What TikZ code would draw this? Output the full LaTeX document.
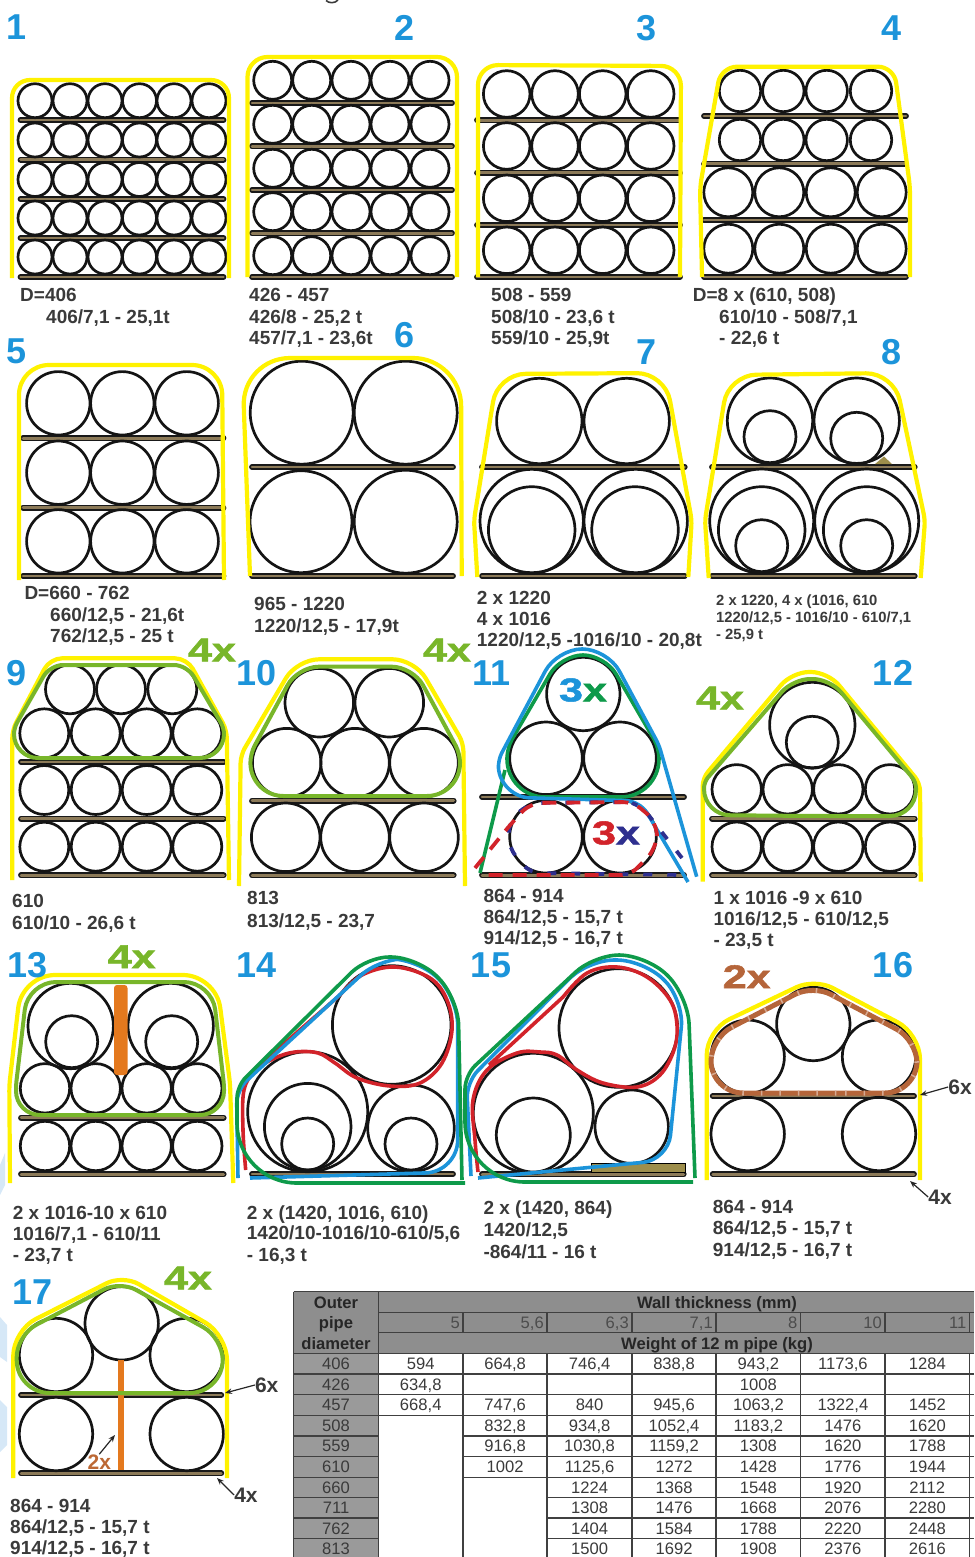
\documentclass[tikz,border=0pt]{standalone}
\usepackage{fontspec}
\setmainfont{Liberation Sans}
\newfontfamily\heavy[BoldFeatures={FakeBold=1.6}]{Liberation Sans}
\usetikzlibrary{arrows.meta}
\definecolor{yel}{HTML}{FFF200}
\definecolor{grnl}{HTML}{78B62A}
\definecolor{grnd}{HTML}{0E9A4A}
\definecolor{blu}{HTML}{1C94DA}
\definecolor{redd}{HTML}{D2232A}
\definecolor{navy}{HTML}{2E2F8F}
\definecolor{brn}{HTML}{B5653A}
\definecolor{org}{HTML}{E4791E}
\definecolor{txt}{HTML}{3A3A3A}
\definecolor{brdc}{HTML}{8C7A58}
\definecolor{pale}{HTML}{D6E8F7}
\definecolor{hgrey}{HTML}{8E8E8E}
\definecolor{lgrey}{HTML}{9A9A9A}
\definecolor{tline}{HTML}{404040}
\tikzset{
  rc/.style={rounded corners=#1pt},
  pipe/.style={draw=black!92,line width=2.7pt},
  yline/.style={draw=yel,line width=4.2pt},
  gline/.style={draw=grnl,line width=4pt,line join=round},
  dline/.style={draw=grnd,line width=3.6pt,line join=round},
  bline/.style={draw=blu,line width=3.6pt,line join=round},
  rline/.style={draw=redd,line width=3.6pt,line join=round},
  lbl/.style={anchor=base west,inner sep=0pt,text=txt,font=\bfseries\fontsize{19}{20}\selectfont},
  lbls/.style={anchor=base west,inner sep=0pt,text=txt,font=\bfseries\fontsize{14.8}{16}\selectfont},
  num/.style={inner sep=0pt,text=blu,font=\bfseries\fontsize{36}{36}\selectfont},
  big/.style={inner sep=0pt,text=grnl,font=\heavy\bfseries\fontsize{33}{33}\selectfont},
  dk/.style={inner sep=0pt,text=txt,font=\bfseries\fontsize{21}{22}\selectfont},
  tcell/.style={anchor=base,inner sep=0pt,text=txt,font=\fontsize{16.6}{18}\selectfont},
  thead/.style={anchor=base,inner sep=0pt,text=black!85,font=\bfseries\fontsize{16.6}{18}\selectfont},
  tnum/.style={anchor=base east,inner sep=0pt,text=black!70,font=\fontsize{16.6}{18}\selectfont},
  gridl/.style={draw=tline,line width=1.2pt},
  arr/.style={draw=black!85,line width=1.2pt,-{Stealth[length=7pt,width=5.5pt]}},
}
\newcommand\cir[3]{\draw[pipe] (#1,#2) circle[radius=#3pt];}
\newcommand\brd[3]{\draw[black!90,line width=5.8pt,line cap=round] (#1+2,#3)--(#2-2,#3);\draw[brdc,line width=2.6pt,line cap=round] (#1+2,#3)--(#2-2,#3);}
\newcommand\lab[4]{\node[lbl] (#1) at (#2,#3+6.6) {#4};}
\newcommand\labs[4]{\node[lbls] (#1) at (#2,#3+5.2) {#4};}
\newcommand\stretchx[1]{\scalebox{1.3}[1]{#1}}
\begin{document}
\begin{tikzpicture}[x=1pt,y=-1pt]
\useasboundingbox (0,0) rectangle (974,1557);
\clip (0,0) rectangle (974,1557);
% pale marks at the left edge
\fill[pale] (0,1165)--(5,1153)--(5,1185)--(0,1195)--cycle;
\fill[pale] (0,1317)--(7,1325)--(7,1362)--(0,1357)--cycle;
\fill[pale] (0,1400)--(7,1407)--(7,1445)--(0,1452)--cycle;
\draw[txt,line width=1.6pt] (326,0.5) .. controls (329,3.5) and (335,3.5) .. (338,0);
% ---------- 1
\foreach \y in {120,159.7,199,238,277}{\brd{18.5}{225.5}{\y}}
\foreach \x in {35,70,105,139.5,174,209}\foreach \y in {100.7,140,179.5,218,257}{\cir{\x}{\y}{17}}
\draw[yline,rc=18] (12,278)--(12,80)--(229,80)--(229,278);
% ---------- 2
\foreach \y in {103,146.3,190,233.3,277}{\brd{250}{454}{\y}}
\foreach \x in {272.7,311.7,351,390,430}\foreach \y in {80.3,124.3,168.3,211.7,255.7}{\cir{\x}{\y}{19}}
\draw[yline,rc=20] (247.5,277)--(247.5,57)--(457,57)--(457,277);
% ---------- 3
\foreach \y in {120.3,172.7,225,277}{\brd{475}{682}{\y}}
\foreach \x in {506.7,555,602.7,650.7}\foreach \y in {94,146,198.3,250.3}{\cir{\x}{\y}{23.3}}
\draw[yline,rc=20] (478,277)--(478,65)--(681,66)--(680,277);
% ---------- 4
\foreach \y in {116,163.7,220,277}{\brd{702}{908}{\y}}
\foreach \x in {740,783.3,826.7,871}\foreach \y in {91,140}{\cir{\x}{\y}{20.7}}
\foreach \x in {728.3,779.3,830.7,881.7}\foreach \y in {192.3,248.7}{\cir{\x}{\y}{24.5}}
\draw[yline] (702,277) [rc=8] -- (700,187) [rc=16] -- (721,66.7) [rc=16] -- (894,66.7) [rc=8] -- (910,187) -- (910,277);
% ---------- 5
\foreach \y in {438.3,507.7,576}{\brd{21}{225.5}{\y}}
\foreach \x in {58.3,122.3,186.7}\foreach \y in {403.3,472.7,541.3}{\cir{\x}{\y}{31.7}}
\draw[yline,rc=30] (19,580)--(19,365)--(222,365)--(224,580);
% ---------- 6
\foreach \y in {467,576}{\brd{250}{455}{\y}}
\cir{301.7}{412.7}{51.5}\cir{405.7}{412.7}{51.5}\cir{301}{521.7}{51}\cir{405.7}{521.7}{51.5}
\draw[yline,rc=48] (250,576)--(242,358)--(461,358)--(461.7,576);
% ---------- 7
\foreach \y in {467,576}{\brd{480}{686.7}{\y}}
\cir{539.3}{421}{42.7}\cir{626.7}{421}{42.7}
\cir{531.7}{521}{51.7}\cir{635.7}{521}{51.7}\cir{531.7}{530}{43.3}\cir{635}{530}{43.3}
\draw[yline] (477.3,577) [rc=6] -- (474,520) [rc=28] -- (497.5,374) [rc=28] -- (665,373) [rc=6] -- (691.7,520) -- (688.3,577);
% ---------- 8
\foreach \y in {467,576}{\brd{710}{916.7}{\y}}
\fill[brdc!85!yellow] (875,464)--(884,456.5)--(892,464)--cycle;
\cir{770}{420.7}{42.7}\cir{856.7}{420.7}{42.7}\cir{770}{436.7}{26}\cir{856.7}{438.3}{26}
\cir{761.7}{521}{52}\cir{866.7}{521}{52}\cir{761.7}{530}{43.3}\cir{866.7}{530}{43.3}\cir{761.7}{545.7}{26}\cir{866.7}{545.7}{26}
\draw[yline] (708.7,578) [rc=6] -- (705,520) [rc=28] -- (728.5,375) [rc=28] -- (894,373) [rc=6] -- (925,520) -- (920.7,578);
% ---------- 9
\foreach \y in {762,818.7,875.3}{\brd{19}{225.7}{\y}}
\foreach \x in {70,121,172.3}{\cir{\x}{689.3}{24.5}}
\foreach \x in {44.3,95.7,146.7,197.3}\foreach \y in {733.3,790,846.7}{\cir{\x}{\y}{24.5}}
\draw[yline] (12.3,880) [rc=8] -- (12.3,730) [rc=12] -- (50,658.3) [rc=12] -- (187,658.3) [rc=8] -- (226.7,730) -- (229,880);
\draw[gline] (120,665) [rc=13] -- (187,665) [rc=6] -- (224,728) [rc=24] -- (224,758) [rc=24] -- (14,758) [rc=6] -- (14,728) [rc=13] -- (50,665) -- cycle;
% ---------- 10
\foreach \y in {800.7,875.3}{\brd{250}{455.7}{\y}}
\cir{319.3}{702.7}{34.3}\cir{389.3}{702.7}{34.3}
\foreach \x in {286.7,355,424}{\cir{\x}{762.7}{34.3}}
\foreach \x in {285.7,355,424}{\cir{\x}{837.3}{34.3}}
\draw[yline] (239,886) [rc=8] -- (240.7,755) [rc=22] -- (297,659.3) [rc=22] -- (414.7,659.3) [rc=8] -- (463.3,743) -- (465,886);
\draw[gline] (355,666.7) [rc=21] -- (413,666.7) [rc=9] -- (460,753.5) [rc=33] -- (460,796) [rc=33] -- (250.4,796) [rc=9] -- (250.4,753.5) [rc=21] -- (297.6,666.7) -- cycle;
% ---------- 11
\foreach \y in {797,875.3}{\brd{480}{686}{\y}}
\cir{583.3}{694}{36.7}\cir{546}{758.3}{36.3}\cir{620}{758.3}{36.3}\cir{546}{836.7}{36.3}\cir{620}{836.7}{36.3}
\draw[dline] (583,797) [rc=38] -- (659,797) [rc=10] -- (659,748) [rc=22] -- (605,655) [rc=22] -- (561,655) [rc=10] -- (507,748) [rc=38] -- (507,797) -- cycle;
\draw[dline] (480,873)--(505,770);
\draw[bline] (696.7,876.7) [rc=6] -- (659,745) [rc=25] -- (607.5,649) [rc=25] -- (557,649) [rc=8] -- (498,760) [rc=30] -- (500,797) [rc=14] -- (640,801) -- (688,882);
\draw[draw=navy,line width=3.8pt,dash pattern=on 9pt off 15pt] (682,858) [rc=12] -- (643,808) [rc=8] -- (630,802) [rc=14] -- (528,803) [rc=10] -- (509,822) [rc=10] -- (509,848) [rc=10] -- (530,873) -- (686,875);
\draw[draw=redd,line width=3.8pt,dash pattern=on 14pt off 10pt] (475,868) [rc=10] -- (510,825) [rc=12] -- (530,803) [rc=10] -- (633,802) [rc=14] -- (657,822) [rc=14] -- (657,848) [rc=8] -- (630,875) -- (482,875);
% ---------- 12
\foreach \y in {818.7,875.3}{\brd{710}{916.7}{\y}}
\cir{812.3}{725}{42.7}\cir{812.3}{742.3}{26}
\foreach \x in {736.7,787.7,838.3,890}\foreach \y in {789.3,846.7}{\cir{\x}{\y}{24.7}}
\draw[yline] (702.7,881.7) [rc=8] -- (702.7,778) [rc=17] -- (792,672) [rc=17] -- (828,672) [rc=8] -- (920,783) -- (920.7,881.7);
\draw[gline] (810,816) [rc=26] -- (916,816) [rc=6] -- (916,782) [rc=17] -- (830,679) [rc=17] -- (793,679) [rc=6] -- (704,782) [rc=26] -- (704,815) -- cycle;
% ---------- 13
\foreach \y in {1117.7,1174.3}{\brd{19}{225.7}{\y}}
\cir{70.7}{1026}{42.7}\cir{170.7}{1026}{42.7}\cir{71.7}{1041.7}{26}\cir{171.7}{1041.7}{26}
\foreach \x in {45,95.7,146.7,197.3}\foreach \y in {1088.3,1146}{\cir{\x}{\y}{24.7}}
\draw[yline] (10,1183) [rc=6] -- (9.3,1085) [rc=33] -- (22,975) [rc=33] -- (216,975) [rc=6] -- (230,1083) -- (233.3,1183);
\fill[org,rounded corners=3pt] (114,985) rectangle (127.5,1075);
\draw[gline] (120,982) [rc=28] -- (212,982) [rc=4] -- (224,1085) [rc=24] -- (224,1115) [rc=24] -- (16,1115) [rc=4] -- (16,1085) [rc=28] -- (28,982) -- cycle;
% ---------- 14
\brd{250}{455}{1174}
\cir{391.7}{1025}{59.3}\cir{307.7}{1111.7}{60}\cir{307.7}{1126.7}{43.3}\cir{307.7}{1144}{26}\cir{411}{1128.3}{43.3}\cir{411}{1144}{26}
\draw[rline] plot[smooth,tension=.6] coordinates {(245.7,1170)(243,1130)(244,1090)(256,1070)(275,1058)(295,1052)(318,1053)(335,1063)(357,1078)(390,1086)(420,1083)(442,1063)(452,1030)(447,1000)(430,978)(395,967)(362,975)(340,995)} -- (256,1068);
\draw[bline] (238,1178) [rc=14] -- (236.5,1090) [rc=24] -- (378.5,959) [rc=27] -- (418.7,959) [rc=27] -- (457.7,998) [rc=32] -- (457.7,1172) -- (250,1178);
\draw[dline] (465,1183) [rc=60] -- (237,1183) [rc=12] -- (237,1086) [rc=22] -- (367,957) [rc=27] -- (418,957) [rc=27] -- (458,998) -- (462,1180);
% ---------- 15
\brd{480}{685.7}{1174.3}
\fill[brdc!85!yellow,draw=black,line width=1pt] (591.7,1163) rectangle (685.7,1172);
\cir{618.3}{1028}{59.3}\cir{533.3}{1113.3}{60}\cir{533.3}{1135}{37}\cir{631.7}{1126.7}{36.7}
\draw[rline] plot[smooth,tension=.6] coordinates {(478,1172)(475,1140)(473,1100)(487,1070)(517,1053)(540,1052)(557,1055)(577,1070)(603,1083)(637,1087)(660,1075)(674,1050)(677,1025)(670,1000)(647,977)(617,967)(587,973)(563,997)} -- (489,1065);
\draw[bline] (471,1176) [rc=16] -- (466.5,1082) [rc=26] -- (588,960) [rc=27] -- (644,960) [rc=27] -- (684,1000) [rc=25] -- (668,1160) -- (478,1178);
\draw[dline] (695,1178) [rc=28] -- (688,996) [rc=28] -- (647,955) [rc=25] -- (594,955) [rc=14] -- (465,1075) [rc=60] -- (465,1182) -- (693,1182);
% ---------- 16
\foreach \y in {1096,1174.3}{\brd{710.7}{916}{\y}}
\cir{813.3}{1024}{36.7}\cir{747.7}{1056.7}{36.7}\cir{879}{1056.7}{36.7}\cir{747.7}{1134}{36.7}\cir{879}{1134}{36.7}
\draw[yline] (706.7,1180) [rc=25] -- (706.7,1030) [rc=20] -- (814.7,978.5) [rc=25] -- (920,1034) -- (920,1180);
\draw[draw=brn,line width=5pt,line join=round] (813,1093) [rc=32] -- (917,1093) [rc=23] -- (917,1040) [rc=20] -- (813,985) [rc=23] -- (711,1038) [rc=32] -- (711,1093) -- cycle;
\draw[draw=brn!55!white,line width=5pt,dash pattern=on 1.5pt off 17pt,line join=round] (813,1093) [rc=32] -- (917,1093) [rc=23] -- (917,1040) [rc=20] -- (813,985) [rc=23] -- (711,1038) [rc=32] -- (711,1093) -- cycle;
% ---------- 17
\foreach \y in {1395,1473.3}{\brd{19}{223.3}{\y}}
\cir{121.7}{1323.3}{36.7}\cir{56}{1355}{36.7}\cir{186.7}{1355}{36.7}\cir{56}{1434}{36.7}\cir{186.7}{1434}{36.7}
\draw[yline] (13.3,1478) [rc=25] -- (13.3,1330.4) [rc=18] -- (122.9,1275) [rc=25] -- (227,1335) -- (227,1478);
\draw[org,line width=6pt] (120.7,1360)--(120.7,1470);
\draw[gline] (120,1393) [rc=33] -- (222.7,1393) [rc=22] -- (222.7,1338) [rc=18] -- (120,1281) [rc=22] -- (16.7,1335) [rc=33] -- (16.7,1393) -- cycle;
% ---------- panel numbers
\foreach \t/\x/\y in {1/17/27,2/405/28,3/646.7/28,4/891.7/28,5/17/351.7,6/405/335,7/646.7/351.7,8/891.7/351.7,9/17/673,10/256.7/673,11/491.7/673,12/893/673,13/28/965,14/256.7/965,15/491/965,16/893/965,17/33/1292}{
  \node[num] (n\t) at (\x,\y) {\t};}
% ---------- multiplicity marks
\node[big] (m9) at (212,650) {\stretchx{4x}};
\node[big] (m10) at (447,650) {\stretchx{4x}};
\node[big] (m12) at (720,698) {\stretchx{4x}};
\node[big] (m13) at (131.7,956.7) {\stretchx{4x}};
\node[big,text=brn] (m16) at (746.7,976.7) {\stretchx{2x}};
\node[big] (m17) at (188,1278) {\stretchx{4x}};
\node[big] (m11a) at (583,690) {\stretchx{\textcolor{blu}{3}\textcolor{grnd}{x}}};
\node[big] (m11b) at (616,833) {\stretchx{\textcolor{redd}{3}\textcolor{navy}{x}}};
% ---------- arrows with labels
\node[dk] (x6a) at (960,1087) {6x};
\node[dk] (x4a) at (940,1197) {4x};
\coordinate (e6a) at (920,1095);
\coordinate (e4a) at (910,1181);
\draw[arr] (x6a.west) -- (e6a);
\draw[arr] (x4a.west) -- (e4a);
\node[dk] (x6b) at (266.7,1385) {6x};
\node[dk] (x4b) at (246,1495) {4x};
\coordinate (e6b) at (225,1393);
\coordinate (e4b) at (217,1478);
\draw[arr] (x6b.west) -- (e6b);
\draw[arr] (x4b.west) -- (e4b);
\node[dk,text=brn!90!orange] (x2) at (99.3,1461.7) {2x};
\coordinate (e2) at (115,1435);
\draw[arr] (x2.north) -- (e2);
% ---------- captions
\lab{a1}{20}{295}{D=406}\lab{a2}{46}{317}{406/7,1 - 25,1t}
\lab{b1}{249}{295}{426 - 457}\lab{b2}{249}{317}{426/8 - 25,2 t}\lab{b3}{249}{338}{457/7,1 - 23,6t}
\lab{c1}{491}{295}{508 - 559}\lab{c2}{491}{317}{508/10 - 23,6 t}\lab{c3}{491}{338}{559/10 - 25,9t}
\lab{d1}{692.7}{295}{D=8 x (610, 508)}\lab{d2}{719}{317}{610/10 - 508/7,1}\lab{d3}{719}{338}{- 22,6 t}
\lab{e1}{24.3}{593}{D=660 - 762}\lab{e2}{50}{615}{660/12,5 - 21,6t}\lab{e3}{50}{636}{762/12,5 - 25 t}
\lab{f1}{254}{604}{965 - 1220}\lab{f2}{254}{626}{1220/12,5 - 17,9t}
\lab{g1}{476.7}{598}{2 x 1220}\lab{g2}{476.7}{619}{4 x 1016}\lab{g3}{476.7}{640}{1220/12,5 -1016/10 - 20,8t}
\labs{h1}{716}{600}{2 x 1220, 4 x (1016, 610}\labs{h2}{716}{617}{1220/12,5 - 1016/10 - 610/7,1}\labs{h3}{716}{634}{- 25,9 t}
\lab{i1}{12}{901}{610}\lab{i2}{12}{923}{610/10 - 26,6 t}
\lab{j1}{247}{898}{813}\lab{j2}{247}{920.7}{813/12,5 - 23,7}
\lab{k1}{483.3}{896}{864 - 914}\lab{k2}{483.3}{917.3}{864/12,5 - 15,7 t}\lab{k3}{483.3}{938.3}{914/12,5 - 16,7 t}
\lab{l1}{713.3}{898}{1 x 1016 -9 x 610}\lab{l2}{713.3}{919.3}{1016/12,5 - 610/12,5}\lab{l3}{713.3}{940}{- 23,5 t}
\lab{o1}{12.7}{1212.7}{2 x 1016-10 x 610}\lab{o2}{12.7}{1234}{1016/7,1 - 610/11}\lab{o3}{12.7}{1255}{- 23,7 t}
\lab{p1}{246.7}{1212.7}{2 x (1420, 1016, 610)}\lab{p2}{246.7}{1233}{1420/10-1016/10-610/5,6}\lab{p3}{246.7}{1255}{- 16,3 t}
\lab{q1}{483.3}{1208}{2 x (1420, 864)}\lab{q2}{483.3}{1230}{1420/12,5}\lab{q3}{483.3}{1252}{-864/11 - 16 t}
\lab{r1}{712.7}{1206.7}{864 - 914}\lab{r2}{712.7}{1228}{864/12,5 - 15,7 t}\lab{r3}{712.7}{1250}{914/12,5 - 16,7 t}
\lab{s1}{10}{1506}{864 - 914}\lab{s2}{10}{1527}{864/12,5 - 15,7 t}\lab{s3}{10}{1548}{914/12,5 - 16,7 t}
% ---------- table
\fill[hgrey] (293.5,1291.7) rectangle (974,1353.3);
\fill[lgrey] (293.5,1353.3) rectangle (378.5,1557);
\foreach \y/\x in {1291.7/293.5,1312.3/378.5,1332.7/378.5,1353.3/293.5,1374/378.5,1394.7/378.5,1415.3/378.5,1436/463,1456.7/463,1477.3/463,1497.5/547,1518/547,1538.7/547}{\draw[gridl] (\x,\y)--(974,\y);}
\foreach \y in {1374,1394.7,1415.3,1436,1456.7,1477.3,1497.5,1518,1538.7}{\draw[gridl] (293.5,\y)--(378.5,\y);}
\foreach \x in {293.5,378.5}{\draw[gridl] (\x,1291.7)--(\x,1557);}
\foreach \x in {463,547,632,716,800.5,885,969.5}{\draw[gridl] (\x,1312.3)--(\x,1332.7);\draw[gridl] (\x,1353.3)--(\x,1557);}
\node[thead] (th1) at (336,1308) {Outer};
\node[thead] (th2) at (336,1328.5) {pipe};
\node[thead] (th3) at (336,1349) {diameter};
\node[thead] (th4) at (717,1308) {Wall thickness (mm)};
\node[thead] (th5) at (717,1349) {Weight of 12 m pipe (kg)};
\foreach \t/\x [count=\c] in {5/460,{5,6}/544,{6,3}/629,{7,1}/713,8/797.5,10/882,11/966.5}{\node[tnum] (wt\c) at (\x,1328.5) {\t};}
\foreach \t [count=\r from 0] in {406,426,457,508,559,610,660,711,762,813}{
  \node[tcell] (dia\r) at (336,1353.3+20.6*\r+16.2) {\t};}
\newcommand\trow[3]{\foreach \t [count=\c from #2] in {#3}{\node[tcell] (v#1x\c) at (378.5+84.43*\c-42.2,1353.3+20.6*#1+16.2) {\t};}}
\trow{0}{1}{594,{664,8},{746,4},{838,8},{943,2},{1173,6},1284}
\trow{1}{1}{{634,8},{},{},{},1008,{},{}}
\trow{2}{1}{{668,4},{747,6},840,{945,6},{1063,2},{1322,4},1452}
\trow{3}{2}{{832,8},{934,8},{1052,4},{1183,2},1476,1620}
\trow{4}{2}{{916,8},{1030,8},{1159,2},1308,1620,1788}
\trow{5}{2}{1002,{1125,6},1272,1428,1776,1944}
\trow{6}{3}{1224,1368,1548,1920,2112}
\trow{7}{3}{1308,1476,1668,2076,2280}
\trow{8}{3}{1404,1584,1788,2220,2448}
\trow{9}{3}{1500,1692,1908,2376,2616}
\end{tikzpicture}
\end{document}
